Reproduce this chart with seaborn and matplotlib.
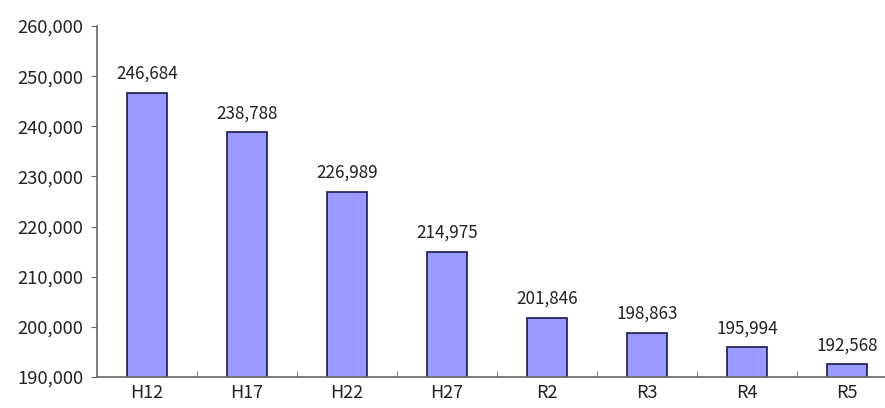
import matplotlib
matplotlib.use("Agg")
import matplotlib.pyplot as plt
import seaborn as sns
import pandas as pd
from matplotlib.ticker import FuncFormatter, FixedLocator

years = ["H12", "H17", "H22", "H27", "R2", "R3", "R4", "R5"]
population = [246684, 238788, 226989, 214975, 201846, 198863, 195994, 192568]

df = pd.DataFrame({"year": years, "population": population})

sns.set_style("white")
plt.rcParams["font.family"] = ["Noto Sans CJK JP", "DejaVu Sans"]

fig = plt.figure(figsize=(8.85, 4.08), dpi=100)
ax = fig.add_axes([97 / 885, 31 / 408, 800 / 885, 351 / 408])

sns.barplot(data=df, x="year", y="population", color="#9999ff", width=0.4,
            edgecolor="#1a1a4d", linewidth=1.2, saturation=1, ax=ax)

ax.set_ylim(190000, 260000)
ax.set_xlim(-0.5, len(years) - 0.5)
ax.yaxis.set_major_formatter(FuncFormatter(lambda v, p: f"{int(v):,}"))
ax.set_yticks(range(190000, 260001, 10000))

# value labels above bars
for i, v in enumerate(population):
    ax.annotate(f"{v:,}", (i, v), xytext=(0, 7), textcoords="offset points",
                ha="center", va="bottom", fontsize=12.3, color="#222222")

ax.set_xlabel("")
ax.set_ylabel("")
for s in ["top", "right"]:
    ax.spines[s].set_visible(False)
for s in ["left", "bottom"]:
    ax.spines[s].set_color("#666666")
    ax.spines[s].set_linewidth(1.2)

ax.tick_params(axis="y", direction="out", length=4, color="#666666",
               labelsize=13.3, labelcolor="#222222", left=True, pad=6)
ax.tick_params(axis="x", which="major", length=0, labelsize=13,
               labelcolor="#222222", pad=5)
ax.xaxis.set_minor_locator(FixedLocator([i + 0.5 for i in range(len(years))]))
ax.tick_params(axis="x", which="minor", direction="in", length=4,
               color="#666666", bottom=True)

fig.savefig("out.png", dpi=100)
